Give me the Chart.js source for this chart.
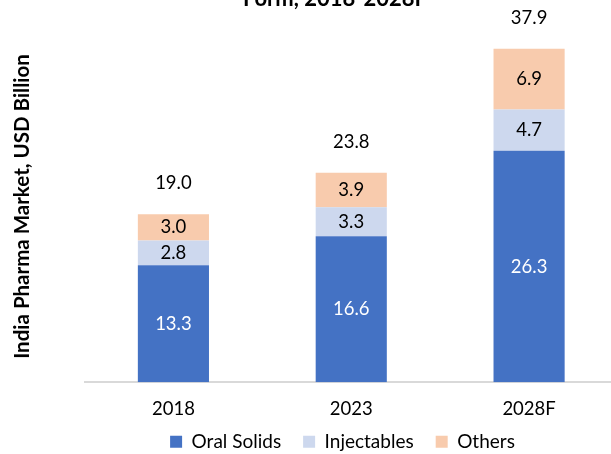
<!DOCTYPE html>
<html>
<head>
<meta charset="utf-8">
<script src="https://cdn.jsdelivr.net/npm/chart.js@4/dist/chart.umd.min.js"></script>
<style>
  html, body { margin: 0; padding: 0; background: #fff; overflow: hidden; width: 611px; height: 454px; }
  #wrap { position: relative; width: 685px; height: 454px; }
</style>
</head>
<body>
<div id="wrap"><canvas id="c" width="685" height="454"></canvas></div>
<script>
// Market size by dosage form, USD billion
const categories = ['2018', '2023', '2028F'];
const seriesNames = ['Oral Solids', 'Injectables', 'Others'];
const oralSolids = [13.3, 16.6, 26.3];
const injectables = [2.8, 3.3, 4.7];
const others = [3.0, 3.9, 6.9];
const totals = [19.0, 23.8, 37.9];

const titleText = 'Form, 2018-2028F';
const yTitleText = 'India Pharma Market, USD Billion';

const colors = ['#4472C4', '#CDD8EE', '#F8CBAD'];
const FONT = 'Lato';

Chart.defaults.font.family = FONT;
Chart.defaults.color = '#000';

// Let the category labels draw below the (short) x-axis box without clipping
const axisRoomPlugin = {
  id: 'axisRoom',
  afterLayout(chart) {
    const x = chart.scales.x;
    x.bottom = x.top + 45;
    x.height = 45;
  }
};

// Segment values, stack totals and the two headings
const labelPlugin = {
  id: 'barLabels',
  afterDatasetsDraw(chart) {
    const ctx = chart.ctx;
    ctx.save();
    ctx.textAlign = 'center';
    ctx.textBaseline = 'middle';
    ctx.font = '18.5px ' + FONT;
    chart.data.datasets.forEach((ds, i) => {
      const meta = chart.getDatasetMeta(i);
      meta.data.forEach((bar, j) => {
        ctx.fillStyle = i === 0 ? '#FFFFFF' : '#000000';
        ctx.fillText(ds.data[j].toFixed(1), bar.x, (bar.y + bar.base) / 2);
      });
    });
    const topMeta = chart.getDatasetMeta(chart.data.datasets.length - 1);
    topMeta.data.forEach((bar, j) => {
      ctx.fillStyle = '#000000';
      ctx.fillText(totals[j].toFixed(1), bar.x, bar.y - 31);
    });

    // chart heading (second line)
    ctx.font = 'bold 22px ' + FONT;
    ctx.textBaseline = 'alphabetic';
    ctx.fillText(titleText, 335, 6);

    // value axis heading
    ctx.translate(28.5, 206.5);
    ctx.rotate(-Math.PI / 2);
    ctx.font = 'bold 20.5px ' + FONT;
    ctx.fillText(yTitleText, 0, 0);
    ctx.restore();
  }
};

new Chart(document.getElementById('c'), {
  type: 'bar',
  data: {
    labels: categories,
    datasets: [
      { label: seriesNames[0], data: oralSolids, backgroundColor: colors[0] },
      { label: seriesNames[1], data: injectables, backgroundColor: colors[1] },
      { label: seriesNames[2], data: others, backgroundColor: colors[2] }
    ]
  },
  options: {
    responsive: false,
    animation: false,
    devicePixelRatio: 1,
    layout: { padding: { left: 67, right: 67, top: 30.3, bottom: -7.3 } },
    datasets: { bar: { barPercentage: 0.4, categoryPercentage: 1.0, borderWidth: 0 } },
    scales: {
      x: {
        stacked: true,
        grid: { display: false, drawTicks: false },
        border: { display: true, color: '#D9D9D9', width: 2 },
        ticks: { padding: 16, color: '#000', font: { size: 18.5 } },
        afterFit(s) { s.height = 28; }
      },
      y: {
        stacked: true,
        min: 0,
        max: 40,
        grid: { display: false, drawTicks: false },
        border: { display: false },
        ticks: { display: false },
        afterFit(s) { s.width = 17.5; }
      }
    },
    plugins: {
      legend: {
        position: 'bottom',
        labels: { boxWidth: 12, boxHeight: 12, padding: 22, color: '#000', font: { size: 19 } }
      },
      tooltip: { enabled: false },
      title: { display: false }
    }
  },
  plugins: [axisRoomPlugin, labelPlugin]
});
</script>
</body>
</html>
